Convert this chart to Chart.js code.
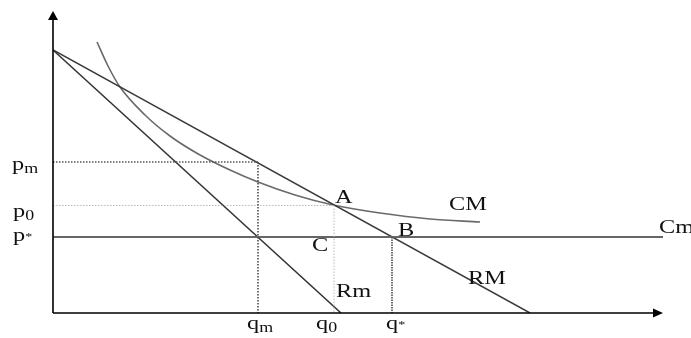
<!DOCTYPE html>
<html lang="en">
<head>
  <meta charset="UTF-8">
  <title>Monopoly diagram</title>
  <script src="https://cdn.jsdelivr.net/npm/chart.js"></script>
  <style>
    html, body { margin: 0; padding: 0; background: #fff; }
    #wrap { width: 691px; height: 338px; }
  </style>
</head>
<body>
<div id="wrap"><canvas id="myChart" width="691" height="338"></canvas></div>
<script>
// price / quantity levels
const priceLevels = { pm: 15.1, p0: 10.75, pStar: 7.6 };
const qtyLevels = { qm: 20.5, q0: 28.1, qStar: 33.9 };
const demandIntercept = 26.3;   // RM and Rm start on the price axis
const rmEnd = 47.7;             // RM meets quantity axis
const rmgEnd = 28.8;            // Rm meets quantity axis
const cmLevel = 7.6;            // Cm (marginal cost), flat
// CM (average cost) curve
const cmCurveX = [4.4, 5.5, 6.7, 9.2, 11.7, 14.7, 17.7, 20.5, 24.2, 28.0, 32.7, 37.7, 42.7];
const cmCurveY = [27.1, 24.7, 22.6, 19.8, 17.7, 15.8, 14.3, 13.1, 11.8, 10.8, 10.0, 9.4, 9.1];

const xMax = 61, yMax = 30;

function seg(x1, y1, x2, y2) { return [{x: x1, y: y1}, {x: x2, y: y2}]; }

function lineSet(data, color, width, dash) {
  return {
    data: data, showLine: true, borderColor: color, borderWidth: width,
    borderDash: dash || [], pointRadius: 0, fill: false
  };
}

const datasets = [
  lineSet(seg(0, priceLevels.pm, qtyLevels.qm, priceLevels.pm), '#555', 1.5, [1.5, 1.5]),
  lineSet(seg(qtyLevels.qm, priceLevels.pm, qtyLevels.qm, 0), '#444', 1.5, [1.5, 1.5]),
  lineSet(seg(0, priceLevels.p0, qtyLevels.q0, priceLevels.p0), '#bbb', 1, [1.5, 1.5]),
  lineSet(seg(qtyLevels.q0, priceLevels.p0, qtyLevels.q0, 0), '#bbb', 1, [1.5, 1.5]),
  lineSet(seg(qtyLevels.qStar, priceLevels.pStar, qtyLevels.qStar, 0), '#444', 1.5, [1.5, 1]),
  lineSet(seg(0, cmLevel, xMax, cmLevel), '#666', 2),
  lineSet(seg(0, demandIntercept, rmEnd, 0), '#3a3a3a', 1.5),
  lineSet(seg(0, demandIntercept, rmgEnd, 0), '#333', 1.5),
  Object.assign(lineSet(cmCurveX.map((x, i) => ({x: x, y: cmCurveY[i]})), '#6a6a6a', 1.6),
    {cubicInterpolationMode: 'monotone'})
];

// text labels: anchor in data units, dx/dy nudges in pixels
const textLabels = [
  {t: 'A', x: qtyLevels.q0, y: priceLevels.p0, dx: 1, dy: -3},
  {t: 'B', x: qtyLevels.qStar, y: priceLevels.pStar, dx: 6, dy: -1},
  {t: 'C', x: qtyLevels.q0, y: priceLevels.pStar, dx: -22, dy: 14},
  {t: 'CM', x: 39.6, y: 10.3, dx: 0, dy: 0},
  {t: 'RM', x: 41.5, y: 3.0, dx: 0, dy: 1},
  {t: 'Rm', x: 28.3, y: 1.6, dx: 0, dy: 0},
  {t: 'Cm', x: 60.6, y: cmLevel, dx: 0, dy: -4}
];
const axisLabels = [
  {t: 'p', s: 'm', axis: 'y', v: priceLevels.pm, dx: 12, dy: 8},
  {t: 'p', s: '0', axis: 'y', v: priceLevels.p0, dx: 13, dy: 11},
  {t: 'p', s: '*', axis: 'y', v: priceLevels.pStar, dx: 13, dy: 4},
  {t: 'q', s: 'm', axis: 'x', v: qtyLevels.qm, dx: -11, dy: 16},
  {t: 'q', s: '0', axis: 'x', v: qtyLevels.q0, dx: -18, dy: 16},
  {t: 'q', s: '*', axis: 'x', v: qtyLevels.qStar, dx: -6, dy: 16}
];

const FONT = '"Liberation Serif", "Times New Roman", serif';
const STRETCH = 1.28;   // lettering in the picture is drawn wide

function wideText(ctx, t, x, y) {
  ctx.save();
  ctx.translate(x, y);
  ctx.scale(STRETCH, 1);
  ctx.fillText(t, 0, 0);
  ctx.restore();
  return ctx.measureText(t).width * STRETCH;
}

const diagramPlugin = {
  id: 'diagram',
  afterDatasetsDraw(chart) {
    const ctx = chart.ctx;
    const xs = chart.scales.x, ys = chart.scales.y;
    const a = chart.chartArea;
    const ox = xs.getPixelForValue(0), oy = ys.getPixelForValue(0);
    ctx.save();
    // axes
    ctx.strokeStyle = '#000';
    ctx.fillStyle = '#000';
    ctx.lineWidth = 1.6;
    ctx.beginPath();
    ctx.moveTo(ox, oy); ctx.lineTo(ox, a.top + 6);
    ctx.moveTo(ox, oy); ctx.lineTo(a.right - 8, oy);
    ctx.stroke();
    ctx.beginPath();
    ctx.moveTo(ox, a.top - 2); ctx.lineTo(ox - 5, a.top + 7); ctx.lineTo(ox + 5, a.top + 7);
    ctx.closePath(); ctx.fill();
    ctx.beginPath();
    ctx.moveTo(a.right, oy); ctx.lineTo(a.right - 10, oy - 4.5); ctx.lineTo(a.right - 10, oy + 4.5);
    ctx.closePath(); ctx.fill();

    ctx.fillStyle = '#111';
    ctx.textBaseline = 'alphabetic';
    ctx.textAlign = 'left';
    ctx.font = '19px ' + FONT;
    textLabels.forEach(l => {
      wideText(ctx, l.t, xs.getPixelForValue(l.x) + l.dx, ys.getPixelForValue(l.y) + l.dy);
    });
    axisLabels.forEach(l => {
      let x, y;
      if (l.axis === 'y') { x = l.dx; y = ys.getPixelForValue(l.v) + l.dy; }
      else { x = xs.getPixelForValue(l.v) + l.dx; y = oy + l.dy; }
      ctx.font = '19px ' + FONT;
      const w = wideText(ctx, l.t, x, y);
      ctx.font = (l.s === '*' ? '11px ' : '14px ') + FONT;
      wideText(ctx, l.s, x + w, y + (l.s === '*' ? -1 : 3));
    });
    ctx.restore();
  }
};

new Chart(document.getElementById('myChart'), {
  type: 'scatter',
  data: { datasets: datasets },
  options: {
    responsive: false,
    animation: false,
    layout: { padding: { left: 53, right: 28, top: 13, bottom: 25 } },
    plugins: { legend: { display: false }, tooltip: { enabled: false } },
    scales: {
      x: { type: 'linear', min: 0, max: xMax, display: false },
      y: { type: 'linear', min: 0, max: yMax, display: false }
    }
  },
  plugins: [diagramPlugin]
});
</script>
</body>
</html>
